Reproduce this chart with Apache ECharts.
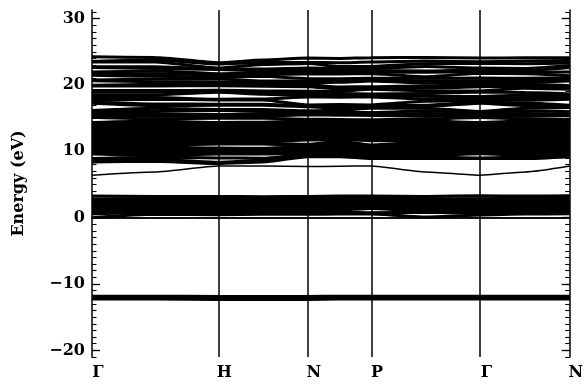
<!DOCTYPE html>
<html><head><meta charset="utf-8">
<script src="https://cdn.jsdelivr.net/npm/echarts@6/dist/echarts.min.js"></script>
<style>html,body{margin:0;padding:0;background:#fff}#c{width:586px;height:385px}</style>
</head><body><div id="c"></div>
<script>
// k-path positions (units of 2π/a): Γ, mid, H, mid, N, mid, P, mid, Γ, mid, N
const kPositions = [0, 0.5, 1, 1.3536, 1.7071, 1.9571, 2.2071, 2.6401, 3.0731, 3.4267, 3.7802];
const symPoints = [0, 1, 1.7071, 2.2071, 3.0731, 3.7802];
const symLabels = ['Γ', 'H', 'N', 'P', 'Γ', 'N'];
const yMajorTicks = [-20, -10, 0, 10, 20, 30];
const yMinorTicks = [-21,-20,-19,-18,-17,-16,-15,-14,-13,-12,-11,-10,-9,-8,-7,-6,-5,-4,-3,-2,-1,0,1,2,3,4,5,6,7,8,9,10,11,12,13,14,15,16,17,18,19,20,21,22,23,24,25,26,27,28,29,30,31];

// eigenvalues (eV) at each k-point: deep group, valence group, lowest conduction band, upper manifold
const eigG1 = [-12.35,-12.15,-11.95,-11.75,
  0.0,0.55,0.85,1.15,1.45,1.8,2.1,2.45,2.8,3.25,
  6.4,
  8.4,8.65,8.9,9.6,9.8,9.95,10.16,10.42,10.68,10.94,11.2,11.46,11.72,11.98,12.24,12.5,12.76,13.02,13.28,13.54,13.8,14.06,14.2,14.35,
  15.15,15.4,15.7,15.95,16.15,17.25,17.45,17.7,18.1,18.5,18.9,19.15,19.85,19.95,20.65,20.75,21.45,21.7,21.95,22.65,22.75,23.45,23.55,24.25];
const eigGH = [-12.35,-12.15,-11.95,-11.75,
  0.5,0.8,1.1,1.4,1.7,2.0,2.3,2.6,2.9,3.2,
  6.9,
  8.5,8.8,9.12,9.38,9.64,9.9,10.16,10.42,10.68,10.94,11.2,11.46,11.72,11.98,12.24,12.5,12.76,13.02,13.28,13.54,13.8,14.06,14.32,14.58,
  14.9,15.3,15.7,16.1,16.5,16.9,17.15,17.85,18.1,18.5,18.9,19.15,19.85,20.1,20.5,20.9,21.3,21.7,22.1,22.5,22.75,23.45,23.75,24.15];
const eigH = [-12.4,-12.2,-12.0,-11.8,
  0.45,0.75,1.05,1.35,1.65,1.95,2.3,2.6,2.9,3.2,
  7.8,
  8.15,8.35,9.0,9.6,9.7,9.9,10.16,10.35,10.5,11.1,11.2,11.46,11.72,11.98,12.24,12.5,12.76,13.02,13.28,13.54,13.8,14.06,14.25,14.35,
  15.0,15.3,15.55,16.2,16.3,16.95,17.1,17.75,17.85,18.9,19.05,19.2,19.9,20.1,20.45,20.9,21.2,21.5,21.7,22.35,22.45,22.55,23.15,23.35];
const eigHN = [-12.4,-12.2,-12.0,-11.8,
  0.5,0.8,1.1,1.4,1.7,2.0,2.3,2.6,2.9,3.15,
  7.8,
  8.4,8.65,8.95,9.6,9.75,9.95,10.16,10.35,10.45,11.1,11.25,11.46,11.72,11.98,12.24,12.5,12.76,13.02,13.28,13.54,13.8,14.06,14.32,14.4,
  15.0,15.3,15.7,16.05,16.3,16.95,17.1,17.75,17.9,18.6,18.85,19.1,19.8,20.05,20.35,20.6,21.3,21.55,21.85,22.1,22.4,23.1,23.4,23.75];
const eigN1 = [-12.4,-12.2,-12.0,-11.8,
  0.5,0.8,1.1,1.4,1.7,2.0,2.3,2.6,2.9,3.2,
  7.7,
  9.2,9.39,9.57,9.76,9.94,10.13,10.31,10.5,10.68,10.87,11.05,11.7,11.94,12.18,12.43,12.67,12.91,13.15,13.39,13.63,13.88,14.12,14.36,14.6,
  14.85,15.5,15.7,15.95,16.1,16.7,16.85,17.0,18.2,18.4,18.75,19.05,19.75,20.0,20.25,20.6,20.95,21.65,21.95,22.25,22.55,23.25,23.4,24.05];
const eigNP = [-12.35,-12.15,-11.95,-11.75,
  0.55,0.8,1.15,1.45,1.75,2.05,2.35,2.65,2.95,3.25,
  7.75,
  9.2,9.43,9.67,9.9,10.14,10.37,10.61,10.84,11.08,11.31,11.55,11.78,12.02,12.25,12.49,12.72,12.96,13.19,13.43,13.66,13.9,14.13,14.37,14.6,
  14.8,15.45,15.7,15.95,16.2,16.5,16.8,17.05,18.15,18.35,18.7,19.05,19.4,19.7,20.4,20.65,20.95,21.65,21.9,22.2,22.5,22.8,23.35,24.0];
const eigP = [-12.35,-12.15,-11.95,-11.75,
  0.55,0.75,1.4,1.6,1.85,2.1,2.4,2.7,3.0,3.25,
  7.8,
  8.9,9.1,9.31,9.51,9.72,9.92,10.13,10.33,10.54,10.74,10.95,11.6,11.85,12.1,12.35,12.6,12.85,13.1,13.35,13.6,13.85,14.1,14.35,14.6,
  14.75,15.4,15.65,15.85,16.5,16.7,16.85,17.0,18.2,18.4,18.65,19.35,19.55,19.75,20.6,20.8,21.0,21.7,21.95,22.2,22.5,22.8,23.45,24.1];
const eigPG = [-12.35,-12.15,-11.95,-11.75,
  0.1,0.8,1.05,1.3,1.6,1.9,2.2,2.5,2.85,3.2,
  6.9,
  8.9,9.15,9.4,9.64,9.89,10.14,10.39,10.63,10.88,11.13,11.38,11.63,11.87,12.12,12.37,12.62,12.87,13.11,13.36,13.61,13.86,14.1,14.35,14.6,
  14.9,15.3,15.7,16.1,16.5,16.75,16.95,17.55,17.9,18.3,18.7,19.1,19.5,19.9,20.3,20.65,21.0,21.25,21.9,22.1,22.8,23.2,23.6,24.15];
const eigG2 = [-12.35,-12.15,-11.95,-11.75,
  0.4,0.7,1.0,1.3,1.6,1.9,2.2,2.5,2.85,3.3,
  6.4,
  8.9,9.0,9.65,9.87,10.1,10.32,10.55,10.77,10.99,11.22,11.44,11.66,11.89,12.11,12.33,12.56,12.78,13.0,13.23,13.45,13.67,13.9,14.12,14.35,
  15.1,15.35,15.6,15.85,16.0,17.25,17.45,17.7,18.0,18.25,18.95,19.1,19.75,20.05,20.35,20.65,21.05,21.75,22.0,22.25,22.55,23.25,23.5,24.05];
const eigGN = [-12.35,-12.15,-11.95,-11.75,
  0.55,0.85,1.15,1.45,1.75,2.05,2.35,2.65,2.95,3.25,
  6.9,
  8.9,9.15,9.4,9.64,9.89,10.14,10.39,10.63,10.88,11.13,11.38,11.63,11.87,12.12,12.37,12.62,12.87,13.11,13.36,13.61,13.86,14.1,14.35,14.6,
  14.9,15.3,15.7,16.1,16.5,16.9,17.3,17.7,18.1,18.5,18.85,19.5,19.8,20.1,20.4,20.7,21.0,21.7,21.95,22.2,22.5,23.2,23.6,24.1];
const eigN2 = [-12.35,-12.15,-11.95,-11.75,
  0.6,0.9,1.2,1.5,1.8,2.1,2.4,2.7,3.0,3.3,
  7.8,
  9.2,9.43,9.67,9.9,10.14,10.37,10.61,10.84,11.08,11.31,11.55,11.78,12.02,12.25,12.49,12.72,12.96,13.19,13.43,13.66,13.9,14.13,14.37,14.6,
  14.75,15.35,15.6,15.95,16.6,16.8,16.95,17.85,18.1,18.35,18.65,19.35,19.6,19.9,20.6,20.85,21.1,21.4,21.95,22.65,22.95,23.3,23.7,24.1];

const columns = [eigG1, eigGH, eigH, eigHN, eigN1, eigNP, eigP, eigPG, eigG2, eigGN, eigN2];
const sortedCols = columns.map(c => c.slice().sort((a, b) => a - b));
const nBands = Math.min.apply(null, sortedCols.map(c => c.length));

const FONT = 'DejaVu Serif';
const series = [];
for (let i = 0; i < nBands; i++) {
  series.push({
    type: 'line',
    data: kPositions.map((x, j) => [x, sortedCols[j][i]]),
    showSymbol: false,
    symbol: 'none',
    smooth: 0.2,
    smoothMonotone: 'x',
    silent: true,
    lineStyle: { color: '#000', width: i === 14 ? 1.5 : (i < 4 ? 2 : 3) },
    z: 2
  });
}
series[0].markLine = {
  silent: true,
  symbol: ['none', 'none'],
  label: { show: false },
  lineStyle: { color: '#000', type: 'solid', width: 1.5 },
  data: symPoints.slice(1, symPoints.length - 1).map(x => ({ xAxis: x }))
};

function symLabel(v) {
  for (let i = 0; i < symPoints.length; i++) {
    if (Math.abs(symPoints[i] - v) < 1e-3) return symLabels[i];
  }
  return '';
}
const labelStyle = { fontFamily: FONT, fontWeight: 'bold', fontSize: 16, color: '#000' };
const yMin = -21, yMax = 31.3;

const option = {
  animation: false,
  backgroundColor: '#fff',
  grid: { left: 92, right: 11, top: 10, bottom: 28, containLabel: false },
  xAxis: [
    {
      type: 'value', min: 0, max: symPoints[symPoints.length - 1], position: 'bottom',
      axisLine: { show: true, lineStyle: { color: '#000', width: 1.5 } },
      axisTick: { show: false }, splitLine: { show: false },
      axisLabel: Object.assign({ customValues: symPoints, formatter: symLabel, margin: 8, padding: [0, 0, 0, 12] }, labelStyle)
    },
    {
      type: 'value', min: 0, max: symPoints[symPoints.length - 1], position: 'top',
      axisLine: { show: true, lineStyle: { color: '#000', width: 1.5 } },
      axisTick: { show: false }, axisLabel: { show: false }, splitLine: { show: false }
    }
  ],
  yAxis: [
    {
      type: 'value', min: yMin, max: yMax, position: 'left',
      axisLine: { show: true, lineStyle: { color: '#000', width: 1.5 } },
      axisTick: { show: true, inside: true, length: 8, customValues: yMajorTicks, lineStyle: { color: '#000', width: 1.3 } },
      axisLabel: Object.assign({ customValues: yMajorTicks, margin: 7, formatter: v => (v < 0 ? '\u2212' + (-v) : '' + v) }, labelStyle),
      splitLine: { show: false },
      name: 'Energy (eV)', nameLocation: 'middle', nameGap: 65,
      nameTextStyle: labelStyle
    },
    {
      type: 'value', min: yMin, max: yMax, position: 'left',
      axisLine: { show: false },
      axisTick: { show: true, inside: true, length: 4.5, customValues: yMinorTicks, lineStyle: { color: '#000', width: 1.1 } },
      axisLabel: { show: false }, splitLine: { show: false }
    },
    {
      type: 'value', min: yMin, max: yMax, position: 'right',
      axisLine: { show: true, lineStyle: { color: '#000', width: 1.5 } },
      axisTick: { show: true, inside: true, length: 8, customValues: yMajorTicks, lineStyle: { color: '#000', width: 1.3 } },
      axisLabel: { show: false }, splitLine: { show: false }
    },
    {
      type: 'value', min: yMin, max: yMax, position: 'right',
      axisLine: { show: false },
      axisTick: { show: true, inside: true, length: 4.5, customValues: yMinorTicks, lineStyle: { color: '#000', width: 1.1 } },
      axisLabel: { show: false }, splitLine: { show: false }
    }
  ],
  series: series
};
const chart = echarts.init(document.getElementById('c'), null, { renderer: 'canvas' });
chart.setOption(option);
</script>
</body></html>
